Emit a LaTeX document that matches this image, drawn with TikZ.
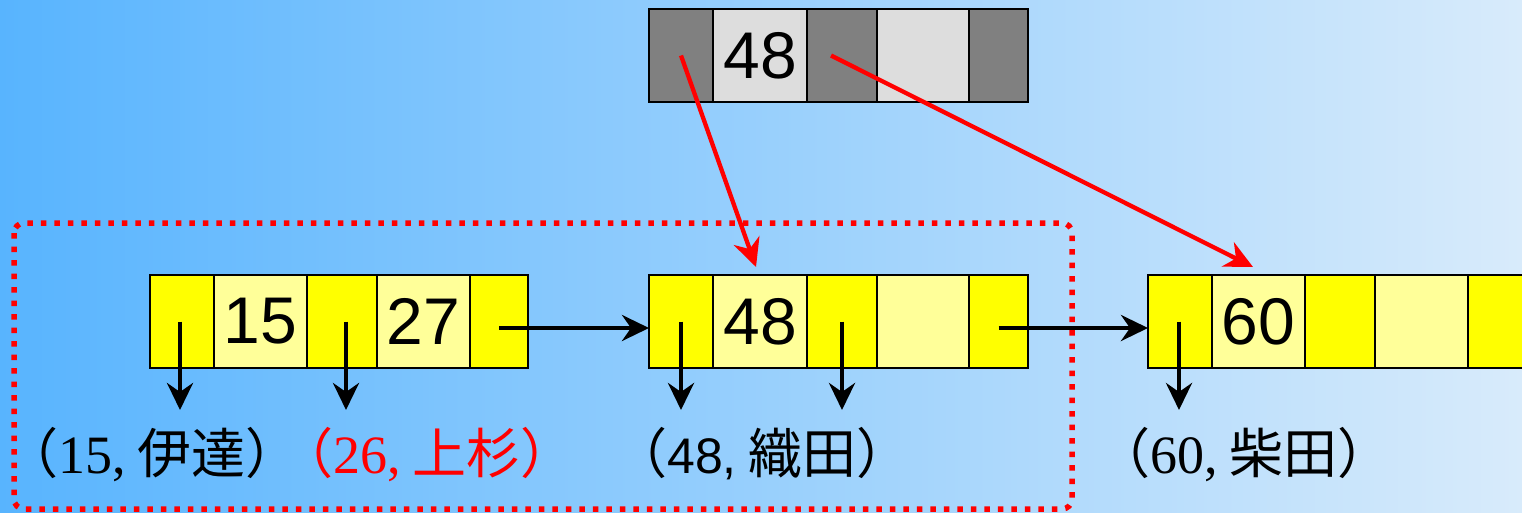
\documentclass[tikz,border=0pt]{standalone}
\usepackage{fontspec}
\newfontfamily\jpfont{Noto Sans CJK JP}
\newfontfamily\serfont{Liberation Serif}
\newfontfamily\sanfont{Liberation Sans}
\usetikzlibrary{arrows.meta}
\definecolor{bgL}{HTML}{58B4FE}
\definecolor{bgR}{HTML}{D8EBFB}
\definecolor{ptrY}{HTML}{FFFF00}
\definecolor{keyY}{HTML}{FFFF99}
\definecolor{ptrG}{HTML}{808080}
\definecolor{keyG}{HTML}{DDDDDD}
\begin{document}
\begin{tikzpicture}[x=1pt,y=-1pt,
  cell/.style={draw=black, line width=2.7pt, minimum height=93pt, inner sep=0pt, outer sep=0pt,
    anchor=north west, font=\sanfont\fontsize{66}{66}\selectfont},
  py/.style={cell, fill=ptrY},
  ky/.style={cell, fill=keyY},
  pg/.style={cell, fill=ptrG},
  kg/.style={cell, fill=keyG},
  ptr/.style={line width=4.3pt, -{Stealth[length=27pt, width=26pt, inset=9pt]}},
  redarr/.style={draw=red, line width=4.3pt, -{Stealth[length=28pt, width=27pt, inset=9pt]}},
  lab/.style={anchor=base, inner sep=0pt, font=\jpfont\fontsize{54}{54}\selectfont},
  group/.style={draw=red, line width=5.5pt, dash pattern=on 5.5pt off 8pt, rounded corners=10pt}
]
\useasboundingbox (0,0) rectangle (1522,512);
\shade[left color=bgL, right color=bgR] (0,0) rectangle (1522,512);

% group box
\draw[group] (14,223) rectangle (1072,509);

% top node
\node[pg, minimum width=64pt] (T1) at (649,9) {};
\node[kg, minimum width=94pt] (T2) at (713,9) {48};
\node[pg, minimum width=70pt] (T3) at (807,9) {};
\node[kg, minimum width=92pt] (T4) at (877,9) {};
\node[pg, minimum width=59pt] (T5) at (969,9) {};

% left leaf
\node[py, minimum width=64pt] (L1) at (150,275) {};
\node[ky, minimum width=93pt] (L2) at (214,275) {15};
\node[py, minimum width=70pt] (L3) at (307,275) {};
\node[ky, minimum width=93pt] (L4) at (377,275) {27};
\node[py, minimum width=58pt] (L5) at (470,275) {};

% middle leaf
\node[py, minimum width=64pt] (M1) at (649,275) {};
\node[ky, minimum width=94pt] (M2) at (713,275) {48};
\node[py, minimum width=70pt] (M3) at (807,275) {};
\node[ky, minimum width=92pt] (M4) at (877,275) {};
\node[py, minimum width=59pt] (M5) at (969,275) {};

% right leaf
\node[py, minimum width=64pt] (R1) at (1148,275) {};
\node[ky, minimum width=93pt] (R2) at (1212,275) {60};
\node[py, minimum width=70pt] (R3) at (1305,275) {};
\node[ky, minimum width=93pt] (R4) at (1375,275) {};
\node[py, minimum width=59pt] (R5) at (1468,275) {};

% labels
\node[lab] (lab1) at (152,473) {（{\serfont 15,} 伊達）};
\node[lab, text=red] (lab2) at (427,473) {（{\serfont 26,} 上杉）};
\node[lab] (lab3) at (762,473) {（{\sanfont\fontsize{50}{50}\selectfont 48,} 織田）};
\node[lab] (lab4) at (1244,473) {（{\serfont 60,} 柴田）};

% coordinates
\coordinate (tipline) at (0,410);
\coordinate (tA) at (756,267);
\coordinate (tB) at (1253,267);

% down arrows
\draw[ptr] ([xshift=-2pt]L1.center) -- ([xshift=-2pt]L1.center |- tipline);
\draw[ptr] ([xshift=4pt]L3.center) -- ([xshift=4pt]L3.center |- tipline);
\draw[ptr] (M1.center) -- (M1.center |- tipline);
\draw[ptr] (M3.center) -- (M3.center |- tipline);
\draw[ptr] ([xshift=-1pt]R1.center) -- ([xshift=-1pt]R1.center |- tipline);

% horizontal links
\draw[ptr] ([yshift=-6.5pt]L5.center) -- ([yshift=-6.5pt]M1.west);
\draw[ptr] ([yshift=-6.5pt]M5.center) -- ([yshift=-6.5pt]R1.west);

% red arrows
\draw[redarr] (T1.center) -- (tA);
\draw[redarr] ([xshift=-11pt]T3.center) -- (tB);
\end{tikzpicture}
\end{document}
